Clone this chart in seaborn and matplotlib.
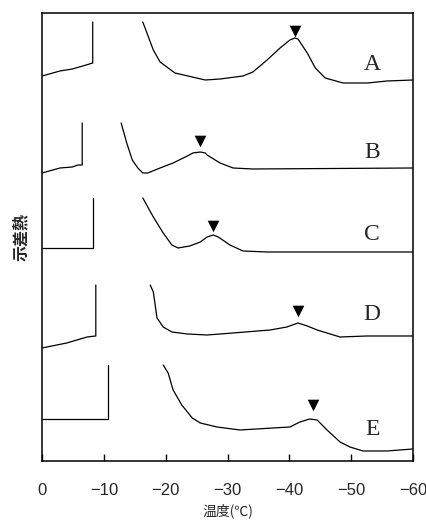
import matplotlib
matplotlib.use("Agg")
import matplotlib.pyplot as plt
import seaborn as sns
import pandas as pd

# temperature (degC) and signal (arb. units) for each curve, two pieces each
a_left_t = [0, -2.9, -4.9, -6.6, -8.2, -8.2]
a_left_s = [38.5, 39.0, 39.2, 39.5, 39.8, 43.9]
a_right_t = [-16.3, -18.0, -19.1, -21.5, -26.4, -28.8, -32.5, -34.1, -36.4, -38.5,
             -40.1, -40.9, -41.4, -42.9, -44.2, -45.8, -48.7, -52.6, -55.8, -60.0]
a_right_s = [43.9, 41.1, 39.9, 38.8, 38.1, 38.2, 38.5, 38.9, 40.1, 41.3,
             42.1, 42.3, 42.2, 40.8, 39.3, 38.3, 37.8, 37.8, 38.0, 38.1]

b_left_t = [0, -2.9, -4.9, -5.8, -6.5, -6.5]
b_left_s = [28.8, 29.3, 29.4, 29.6, 29.6, 33.8]
b_right_t = [-12.8, -13.7, -14.6, -15.5, -16.3, -17.1, -19.1, -21.2, -23.5, -24.4,
             -25.6, -26.4, -26.7, -28.8, -30.9, -34.1, -60.0]
b_right_s = [33.8, 31.8, 30.1, 29.3, 28.8, 28.8, 29.3, 29.8, 30.5, 30.8,
             30.9, 30.8, 30.6, 29.8, 29.3, 29.2, 29.3]

c_left_t = [0, -8.2, -8.2]
c_left_s = [21.3, 21.3, 26.3]
c_right_t = [-16.3, -18.0, -19.6, -21.0, -22.0, -23.9, -25.6, -26.7, -27.7, -28.5,
             -30.4, -32.5, -36.4, -60.0]
c_right_s = [26.3, 24.4, 22.8, 21.6, 21.3, 21.5, 21.9, 22.4, 22.6, 22.4,
             21.6, 21.0, 20.9, 20.9]

d_left_t = [0, -4.0, -7.3, -8.7, -8.7]
d_left_s = [11.3, 11.8, 12.4, 12.5, 17.6]
d_right_t = [-17.5, -18.0, -18.6, -19.6, -21.0, -23.5, -26.7, -30.9, -36.9, -39.6,
             -41.4, -42.9, -44.5, -48.2, -52.6, -60.0]
d_right_s = [17.6, 16.9, 14.3, 13.4, 12.9, 12.7, 12.6, 12.8, 13.1, 13.4,
             13.8, 13.5, 13.1, 12.4, 12.5, 12.5]

e_left_t = [0, -10.7, -10.7]
e_left_s = [4.2, 4.2, 9.6]
e_right_t = [-19.6, -20.4, -21.2, -22.6, -24.3, -25.6, -28.3, -32.0, -37.4, -40.1,
             -41.7, -43.3, -44.5, -46.1, -48.2, -49.8, -51.9, -55.8, -60.0]
e_right_s = [9.6, 8.8, 7.1, 5.6, 4.3, 3.8, 3.4, 3.1, 3.3, 3.4,
             3.9, 4.2, 4.1, 3.1, 1.9, 1.4, 1.0, 1.0, 1.2]

# peak markers and sample labels
peak_t = [-40.9, -25.6, -27.7, -41.4, -43.8]
peak_s = [43.0, 32.0, 23.5, 15.0, 5.6]
names = ["A", "B", "C", "D", "E"]
name_t = -53.4
name_s = [39.6, 30.8, 22.6, 14.6, 3.1]

xticks = [0, -10, -20, -30, -40, -50, -60]

sns.set_style("ticks")
plt.rcParams["font.family"] = ["Liberation Sans", "Noto Sans CJK JP"]

fig = plt.figure(figsize=(4.27, 5.20), dpi=100)
ax = fig.add_axes([0.0984, 0.1135, 0.8688, 0.8615])

pieces = [
    (a_left_t, a_left_s), (a_right_t, a_right_s),
    (b_left_t, b_left_s), (b_right_t, b_right_s),
    (c_left_t, c_left_s), (c_right_t, c_right_s),
    (d_left_t, d_left_s), (d_right_t, d_right_s),
    (e_left_t, e_left_s), (e_right_t, e_right_s),
]
for t, s in pieces:
    df = pd.DataFrame({"t": t, "s": s})
    sns.lineplot(data=df, x="t", y="s", sort=False, estimator=None,
                 errorbar=None, color="black", linewidth=0.9, ax=ax)

sns.scatterplot(x=peak_t, y=peak_s, marker="v", s=70, color="black",
                edgecolor="black", linewidth=0, ax=ax)

for n, ys in zip(names, name_s):
    ax.text(name_t, ys, n, family="Liberation Serif", fontsize=17,
            ha="center", va="center")

ax.set_xlim(0, -60)
ax.set_ylim(0, 44.8)
ax.set_xticks(xticks)
ax.set_xticklabels(["0"] + ["\u2212%d" % abs(v) for v in xticks[1:]], fontsize=12)
ax.set_yticks([])
ax.tick_params(axis="x", direction="in", length=5, width=1, pad=16, color="black")
for sp in ax.spines.values():
    sp.set_visible(True)
    sp.set_color("black")
    sp.set_linewidth(1.1)

ax.set_xlabel("温度(℃)", family=["Noto Sans CJK JP", "DejaVu Sans"], fontsize=10,
              labelpad=4)
ax.set_ylabel("示差熱", family=["Noto Sans CJK JP"], fontsize=11.5,
              fontweight="bold", labelpad=9)

fig.savefig("out.png", dpi=100)
